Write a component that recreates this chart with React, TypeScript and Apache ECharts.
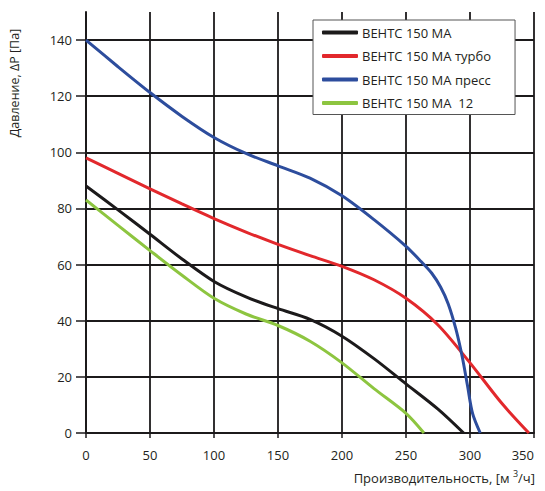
import React, { useEffect, useRef } from "react";
import * as echarts from "echarts";

const seriesNames = ["ВЕНТС 150 МА", "ВЕНТС 150 МА турбо", "ВЕНТС 150 МА пресс", "ВЕНТС 150 МА  12"];
const seriesColors = ["#1c1a1b", "#e2282c", "#2d4d9d", "#8dc540"];

const blackData = [[0, 88], [25, 79.5], [50, 70.8], [75, 62], [100, 54], [125, 48.5], [150, 44.3], [175, 40.5], [200, 34.5], [225, 26.5], [250, 17.5], [275, 8.5], [295, 0]];
const redData = [[0, 98], [25, 92.5], [50, 87], [75, 81.6], [100, 76.4], [125, 71.6], [150, 67.2], [175, 63.2], [200, 59.4], [225, 54.6], [250, 48], [275, 38.5], [300, 25], [325, 10.5], [346, 0]];
const blueData = [[0, 140], [25, 130.5], [50, 121.3], [75, 112.8], [100, 105.3], [125, 99.6], [150, 95.2], [175, 90.8], [200, 84.5], [225, 76], [250, 66.5], [262, 61], [270, 57], [277, 52], [283, 46], [289, 37], [294, 27], [298, 17], [302, 7], [308, 0]];
const greenData = [[0, 83], [25, 74], [50, 65], [75, 56.2], [100, 48], [125, 42.4], [150, 38.3], [175, 32.7], [200, 25], [225, 15.8], [250, 7], [264, 0]];

const xTickLabels = [0, 50, 100, 150, 200, 250, 300, 350];
const yTickLabels = [0, 20, 40, 60, 80, 100, 120, 140];

const yAxisName = "Давление, ΔP [Па]";
const xAxisNameMain = "Производительность, [м ";
const xAxisNameSup = "3";
const xAxisNameEnd = "/ч]";

const FONT = "'Open Sans', 'Noto Sans', sans-serif";
const TEXT = "#231f20";

export default function App() {
  const ref = useRef<HTMLDivElement>(null);
  useEffect(() => {
    if (!ref.current) return;
    const chart = echarts.init(ref.current, null, { renderer: "svg" });
    const allData = [blackData, redData, blueData, greenData];
    // vertical grid colours: 0..175 black, 200..325 grey, 350 black
    const vColors: string[] = [];
    for (let v = 0; v <= 350; v += 25) {
      vColors.push(v >= 200 && v < 350 ? "#8a8a8a" : "#1c1a1b");
    }
    chart.setOption({
      animation: false,
      backgroundColor: "#ffffff",
      textStyle: { fontFamily: FONT },
      grid: { left: 86, right: 11, top: 12, bottom: 58, containLabel: false },
      legend: {
        orient: "vertical",
        left: 313,
        top: 20,
        padding: [6, 24, 5, 9],
        itemGap: 10.5,
        itemWidth: 36,
        itemHeight: 4,
        icon: "roundRect",
        backgroundColor: "#ffffff",
        borderColor: "#555555",
        borderWidth: 1,
        borderRadius: 0,
        textStyle: { fontFamily: FONT, fontSize: 13, color: TEXT, padding: [0, 0, 0, -1] },
        data: seriesNames,
      },
      xAxis: {
        type: "value",
        min: 0,
        max: 350,
        interval: 25,
        axisLine: { show: true, onZero: false, lineStyle: { color: "#1c1a1b", width: 2 } },
        axisTick: { show: true, length: 5, customValues: xTickLabels, lineStyle: { color: "#1c1a1b", width: 1.5 } },
        axisLabel: {
          customValues: xTickLabels,
          margin: 15,
          fontSize: 13,
          fontFamily: FONT,
          color: TEXT,
          alignMaxLabel: "right",
        },
        splitLine: { show: true, lineStyle: { color: vColors, width: 1.8 } },
      },
      yAxis: {
        type: "value",
        min: 0,
        max: 150,
        interval: 10,
        axisLine: { show: true, onZero: false, lineStyle: { color: "#1c1a1b", width: 2 } },
        axisTick: { show: true, length: 10, customValues: yTickLabels, lineStyle: { color: "#1c1a1b", width: 1.5 } },
        axisLabel: { customValues: yTickLabels, margin: 14, fontSize: 13, fontFamily: FONT, color: TEXT },
        splitLine: { show: true, lineStyle: { color: "#1c1a1b", width: 1.8 } },
      },
      graphic: [
        {
          type: "text",
          x: 14,
          y: 83,
          rotation: Math.PI / 2,
          style: {
            text: yAxisName,
            fontFamily: FONT,
            fontSize: 12.5,
            fill: TEXT,
            align: "center",
            verticalAlign: "middle",
          },
        },
        {
          type: "text",
          x: 535,
          y: 478,
          style: {
            text: "{a|" + xAxisNameMain + "}{s|" + xAxisNameSup + "}{a|" + xAxisNameEnd + "}",
            align: "right",
            verticalAlign: "middle",
            fill: TEXT,
            rich: {
              a: { fontFamily: FONT, fontSize: 13, fill: TEXT, lineHeight: 18 },
              s: { fontFamily: FONT, fontSize: 9, fill: TEXT, verticalAlign: "top", lineHeight: 10 },
            },
          },
        },
      ],
      series: seriesNames.map((name, i) => ({
        name,
        type: "line",
        data: allData[i],
        showSymbol: false,
        smooth: 0.3,
        color: seriesColors[i],
        lineStyle: { color: seriesColors[i], width: 3 },
        z: 3,
      })),
    });
    return () => chart.dispose();
  }, []);
  return <div ref={ref} style={{ position: "absolute", left: 0, top: 0, width: 545, height: 491 }} />;
}
